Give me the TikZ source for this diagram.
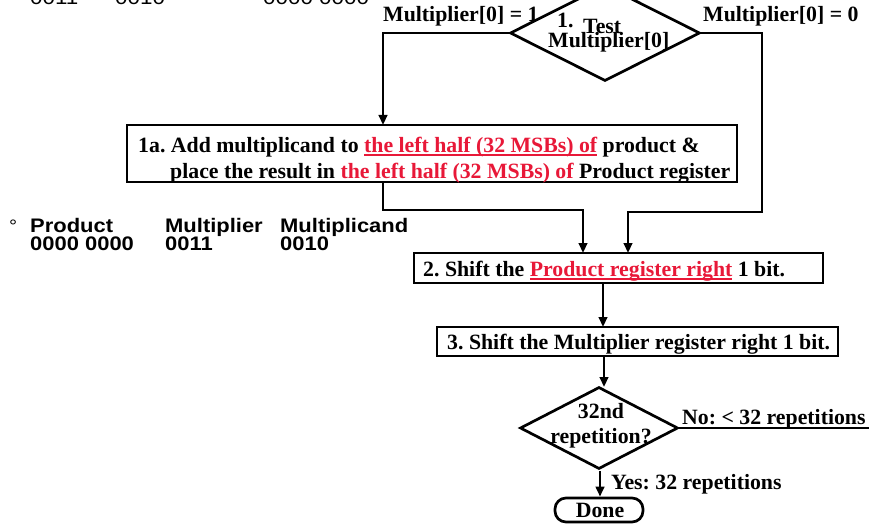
\documentclass[tikz,border=0pt]{standalone}
\usepackage{fontspec}
\setmainfont{Liberation Serif}
\newfontfamily\arialf{Liberation Sans}[FakeStretch=1.12]
\usetikzlibrary{arrows.meta,shapes.geometric}
\definecolor{ured}{RGB}{232,24,56}
\newsavebox\ulbox
% red, underlined phrase
\newcommand\redul[1]{\sbox\ulbox{\color{ured}#1}{\color{ured}\rlap{\rule[-3.5pt]{\wd\ulbox}{1.5pt}}}\usebox\ulbox}
\frenchspacing
\begin{document}
\begin{tikzpicture}[x=1pt,y=-1pt,
  every node/.style={font=\fontsize{21.8}{25}\selectfont\bfseries, inner sep=0},
  box/.style={draw, line width=2.7pt, rectangle},
  dia/.style={draw, line width=2.7pt, diamond, inner sep=0},
  term/.style={draw, line width=2.7pt, rectangle, rounded corners=11pt},
  txt/.style={anchor=base west},
  note/.style={anchor=base west, font=\arialf\bfseries\fontsize{19.6}{17}\selectfont},
  arr/.style={line width=2.7pt, -{Triangle[length=10pt,width=8.5pt]}},
  ln/.style={line width=2.7pt}]
\useasboundingbox (0,0) rectangle (869,524);
\clip (0,0) rectangle (869,524);

% register values, top row
\node[anchor=base west, font=\arialf\fontsize{20}{20}\selectfont] (v1) at (30,5) {0011};
\node[anchor=base west, font=\arialf\fontsize{20}{20}\selectfont] (v2) at (115,5) {0010};
\node[anchor=base west, font=\arialf\fontsize{20}{20}\selectfont] (v3) at (263,5) {0000 0000};

% shapes
\node[dia, minimum width=190pt, minimum height=96pt] (d1) at (605,33) {};
\node[box, minimum width=610pt, minimum height=57pt] (b1a) at (432,153.5) {};
\node[box, minimum width=409pt, minimum height=30pt] (b2) at (618.5,268) {};
\node[box, minimum width=401pt, minimum height=29pt] (b3) at (637.5,341.5) {};
\node[dia, minimum width=158pt, minimum height=82pt] (d2) at (599,428) {};
\node[term, minimum width=88pt, minimum height=24pt] (done) at (599,510) {};

% texts
\node[txt] (t1n) at (557,28) {1.};
\node[txt] (t1t) at (583,34) {Test};
\node[txt] (t1m) at (548,48) {Multiplier[0]};
\node[txt] (l1) at (383,22) {Multiplier[0] = 1};
\node[txt] (l0) at (703,22) {Multiplier[0] = 0};
\node[txt] (s1a) at (138,152) {1a. Add multiplicand to \redul{the left half (32 MSBs) of} product \&};
\node[txt] (s1b) at (170,178) {place the result in {\color{ured}the left half (32 MSBs) of} Product register};
\node[txt] (s2) at (423,276) {2. Shift the \redul{Product register right} 1 bit.};
\node[txt] (s3) at (447,349) {3. Shift the Multiplier register right 1 bit.};
\node[anchor=base] (q1) at (601,418) {32nd};
\node[anchor=base] (q2) at (601,443) {repetition?};
\node[txt] (no) at (682,424) {No: < 32 repetitions};
\node[txt] (yes) at (611,489) {Yes: 32 repetitions};
\node[anchor=base] (dn) at (600,517) {Done};

% register values, middle block
\node[anchor=base west, font=\arialf\fontsize{18}{18}\selectfont] (bul) at (9,232) {°};
\node[note] (h1) at (30,232) {Product};
\node[note] (h2) at (165,232) {Multiplier};
\node[note] (h3) at (280,232) {Multiplicand};
\node[note] (r1) at (30,250) {0000 0000};
\node[note] (r2) at (165,250) {0011};
\node[note] (r3) at (280,250) {0010};

% connector ends
\coordinate (in1a) at (383,125);
\coordinate (out1a) at (383,182);
\coordinate (m1) at (583,210);
\coordinate (in2a) at (583,253);
\coordinate (m2) at (762,212);
\coordinate (in2b) at (628,253);
\coordinate (out2) at (603,283);
\coordinate (in3) at (603,327);
\coordinate (out3) at (604,356);
\coordinate (in4) at (604,387);
\coordinate (rend) at (869,428);
\coordinate (out4) at (600,471);

% connectors
\draw[arr] (d1.west) -| (in1a);
\draw[arr] (d1.east) -| (m2) -| (in2b);
\draw[arr] (out1a) |- (m1) -- (in2a);
\draw[arr] (out2) -- (in3);
\draw[arr] (out3) -- (in4);
\draw[ln] (d2.east) -- (rend);
\draw[arr] (out4) -- (done.north -| out4);
\end{tikzpicture}
\end{document}
